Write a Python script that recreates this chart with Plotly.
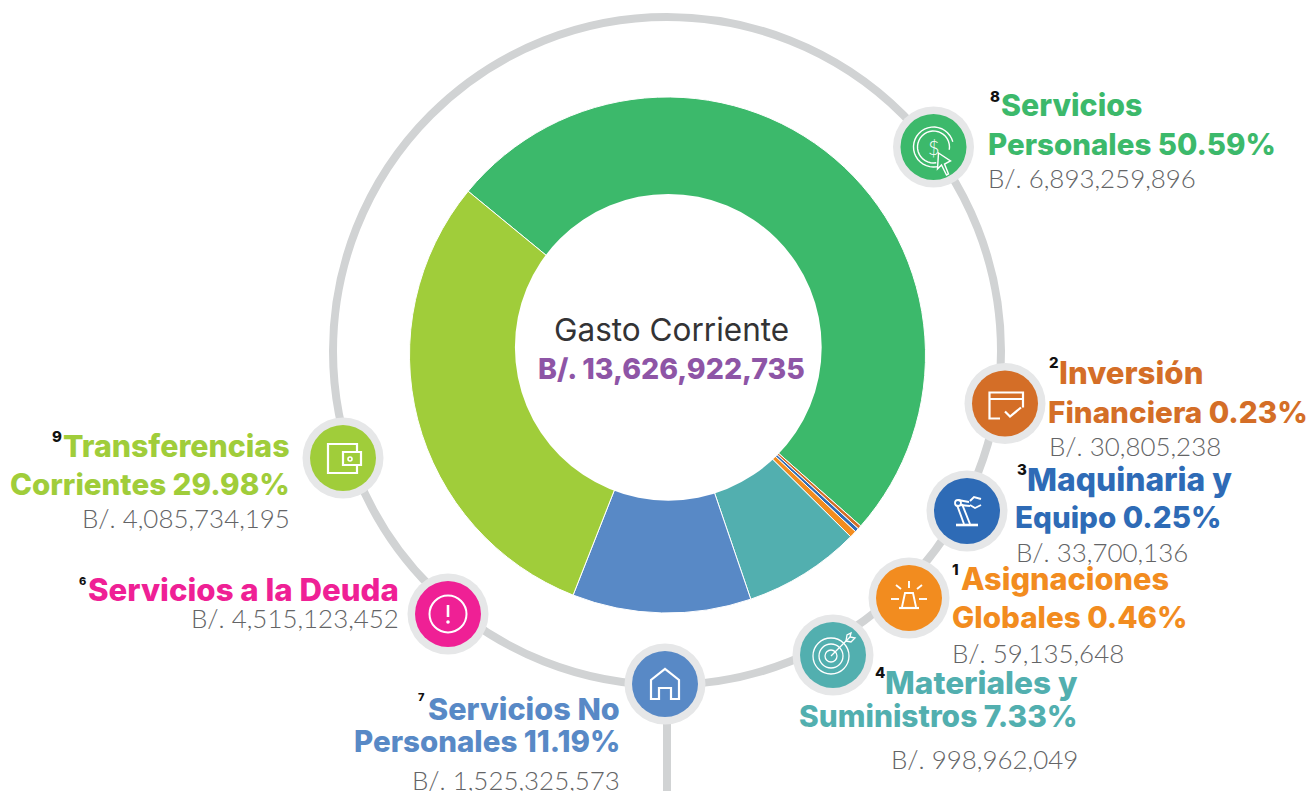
import math
import plotly.graph_objects as go

# ---- data ----
slice_names = ["Servicios Personales", "Inversión Financiera", "Maquinaria y Equipo",
               "Asignaciones Globales", "Materiales y Suministros",
               "Servicios No Personales", "Transferencias Corrientes"]
slice_values = [6893259896, 30805238, 33700136, 59135648, 998962049, 1525325573, 4085734195]
slice_colors = ["#3CB96B", "#D46E27", "#2E6BB6", "#F28C1F", "#52AFAF", "#5889C6", "#A0CD3A"]

center_title = "Gasto Corriente"
center_total = "B/. 13,626,922,735"

W, H = 1312, 791
FONT_B = "Inter"
FONT_L = "Lato"
GREY = "#636466"
RING = "#D1D3D4"
HALO = "#E6E7E8"

# label blocks: (number, number x,y, number size, [(text, x, y, anchor, size)], colour, (amount, x, y, anchor))
labels = [
    ("8", 990, 96, 15, [("Servicios", 1001, 105, "left", 30.3), ("Personales 50.59%", 988, 144, "left", 29.5)], "#3CB96B", ("B/. 6,893,259,896", 988, 178, "left")),
    ("2", 1049, 362, 15, [("Inversión", 1059, 373, "left", 31.2), ("Financiera 0.23%", 1048, 412, "left", 29.7)], "#D46E27", ("B/. 30,805,238", 1049, 446, "left")),
    ("3", 1017, 469, 15, [("Maquinaria y", 1027, 479, "left", 31.8), ("Equipo 0.25%", 1015, 517, "left", 29.6)], "#2E6BB6", ("B/. 33,700,136", 1016, 552, "left")),
    ("1", 952, 569, 15, [("Asignaciones", 961, 578, "left", 30.7), ("Globales 0.46%", 952, 617, "left", 29.6)], "#F28C1F", ("B/. 59,135,648", 952, 653, "left")),
    ("4", 875, 672, 15, [("Materiales y", 1078, 682, "right", 31.6), ("Suministros 7.33%", 1078, 716, "right", 29.9)], "#52AFAF", ("B/. 998,962,049", 1078, 759, "right")),
    ("7", 418, 697, 11, [("Servicios No", 620, 708, "right", 30.6), ("Personales 11.19%", 620, 741, "right", 29.5)], "#5889C6", ("B/. 1,525,325,573", 620, 780, "right")),
    ("6", 79, 581, 11, [("Servicios a la Deuda", 399, 590, "right", 31.2)], "#EF2095", ("B/. 4,515,123,452", 399, 618, "right")),
    ("9", 52, 436, 15, [("Transferencias", 290, 446, "right", 30.3), ("Corrientes 29.98%", 290, 484, "right", 29.6)], "#A0CD3A", ("B/. 4,085,734,195", 290, 518, "right")),
]

fig = go.Figure()
fig.add_trace(go.Pie(
    labels=slice_names, values=slice_values, hole=0.5, sort=False,
    direction="clockwise", rotation=-50.6, textinfo="none", hoverinfo="label+value",
    marker=dict(colors=slice_colors, line=dict(color="white", width=1)),
    domain=dict(x=[409.5 / W, 925.5 / W], y=[1 - 613.5 / H, 1 - 96.5 / H]),
    showlegend=False,
))

shapes = []
# off-centre white hole of the donut
shapes.append(dict(type="circle", xref="x", yref="y", x0=668.3 - 153.4, x1=668.3 + 153.4, y0=347.3 - 153.4, y1=347.3 + 153.4,
                   line=dict(width=0), fillcolor="white"))
# ring and stem
shapes.append(dict(type="circle", xref="x", yref="y", x0=667 - 334, x1=667 + 334, y0=351 - 334, y1=351 + 334,
                   line=dict(color=RING, width=8), fillcolor="rgba(0,0,0,0)"))
shapes.append(dict(type="line", xref="x", yref="y", x0=667, x1=667, y0=720, y1=791, line=dict(color=RING, width=8)))


def disk(cx, cy, r, col):
    shapes.append(dict(type="circle", xref="x", yref="y", x0=cx - r, x1=cx + r, y0=cy - r, y1=cy + r,
                       line=dict(width=0), fillcolor=col))


def ring(cx, cy, r, w=1.8):
    shapes.append(dict(type="circle", xref="x", yref="y", x0=cx - r, x1=cx + r, y0=cy - r, y1=cy + r,
                       line=dict(color="white", width=w), fillcolor="rgba(0,0,0,0)"))


def stroke(cx, cy, pts, close=False, w=1.9, fill=None):
    d = "M " + " L ".join(f"{cx + x},{cy + y}" for x, y in pts) + (" Z" if close else "")
    shapes.append(dict(type="path", xref="x", yref="y", path=d, line=dict(color="white", width=w),
                       fillcolor=fill or "rgba(0,0,0,0)"))


def arc(r, a0, a1, n=28):
    return [(r * math.cos(math.radians(a0 + (a1 - a0) * i / n)), r * math.sin(math.radians(a0 + (a1 - a0) * i / n)))
            for i in range(n + 1)]


icons = [(933.5, 147, "#3CB96B"), (1005, 403.5, "#D46E27"), (967, 511, "#2E6BB6"), (909, 598, "#F28C1F"),
         (833, 655, "#52AFAF"), (665, 684, "#5889C6"), (448, 614, "#EF2095"), (343, 458, "#A0CD3A")]
for cx, cy, col in icons:
    disk(cx, cy, 40.5, HALO)
    disk(cx, cy, 33, col)

# Servicios Personales: coin and cursor
cx, cy = icons[0][:2]
stroke(cx, cy, arc(20, 60, 345), w=1.4)
stroke(cx, cy, arc(16, 80, 370), w=1.4)
stroke(cx, cy, [(5, 6), (17, 14), (11, 17), (15, 27), (13, 28), (8, 18), (4, 22)], close=True, w=1.4, fill="#3CB96B")
# Inversión: card with check
cx, cy = icons[1][:2]
stroke(cx, cy, [(-5, 15), (-15.5, 15), (-15.5, -11), (18, -11), (18, 4)], w=2.2)
stroke(cx, cy, [(-15.5, -4.5), (18, -4.5)], w=2.2)
stroke(cx, cy, [(0, 8), (5, 13), (16, 4)], w=2.2)
# Maquinaria: robot arm
cx, cy = icons[2][:2]
stroke(cx, cy, [(-11, 14), (11, 14)], w=2.6)
stroke(cx, cy, [(-10, -6), (-3, 13)])
stroke(cx, cy, [(-5, -7), (3, 13)])
stroke(cx, cy, [(-9, -11), (2, -9)])
stroke(cx, cy, [(-7, -6), (3, -5)])
ring(cx - 9, cy - 8, 3)
stroke(cx, cy, [(3, -10), (7, -14), (14, -12)])
stroke(cx, cy, [(3, -6), (8, -3), (14, -6)])
# Asignaciones: beacon
cx, cy = icons[3][:2]
stroke(cx, cy, [(-10, 10), (10, 10)], w=2.2)
stroke(cx, cy, [(-7, 9), (-4, -5), (4, -5), (7, 9)])
stroke(cx, cy, [(0, -17), (0, -10)])
stroke(cx, cy, [(-13, -13), (-8, -9)])
stroke(cx, cy, [(13, -13), (8, -9)])
stroke(cx, cy, [(-18, 1), (-10, 1)])
stroke(cx, cy, [(10, 1), (18, 1)])
# Materiales: target and arrow
cx, cy = icons[4][:2]
ring(cx - 2, cy + 1, 18, 1.3)
ring(cx - 2, cy + 1, 12, 1.3)
ring(cx - 2, cy + 1, 6, 1.3)
stroke(cx, cy, [(-2, 1), (17, -18)], w=1.3)
stroke(cx, cy, [(13, -14), (14, -20), (18, -22), (17, -18), (22, -17), (18, -13), (13, -14)], w=1.3)
# Servicios No Personales: house
cx, cy = icons[5][:2]
stroke(cx, cy, [(-14, 15), (-14, -4), (0, -15), (14, -4), (14, 15), (6, 15), (6, 4), (-6, 4), (-6, 15)], close=True, w=2.2)
# Deuda: warning circle
cx, cy = icons[6][:2]
ring(cx, cy, 18.5, 2)
stroke(cx, cy, [(0, -9), (0, 3)], w=2.6)
disk(cx, cy + 8, 1.8, "white")
# Transferencias: wallet
cx, cy = icons[7][:2]
stroke(cx, cy, [(14, -6), (14, -14), (-15, -14), (-15, 15), (14, 15), (14, 7)], w=2.2)
stroke(cx, cy, [(0, -6), (18, -6), (18, 7), (0, 7)], close=True, w=2.2)
ring(cx + 7, cy + 1, 2, 1.6)

ann = []


def text(t, x, y, anchor, size, color, family, weight="normal"):
    ann.append(dict(text=t, x=x, y=y, xref="x", yref="y", xanchor=anchor, yanchor="middle", showarrow=False,
                    font=dict(family=family, size=size, color=color, weight=weight), borderpad=0, borderwidth=0))


for num, nx, ny, nsize, lines, col, (amt, ax, ay, aa) in labels:
    text(num, nx, ny, "left", nsize, "#111111", FONT_B, 800)
    for t, x, y, a, s in lines:
        text(t, x, y, a, s, col, FONT_B, 800)
    text(amt, ax, ay, aa, 25.9, GREY, FONT_L, 300)

text("$", icons[0][0], icons[0][1], "center", 20, "white", FONT_L, 300)
text(center_title, 671.5, 329, "center", 31.5, "#333335", FONT_B, 400)
text(center_total, 671.5, 368, "center", 28.5, "#8E55A6", FONT_B, 800)

fig.update_layout(
    width=W, height=H, margin=dict(l=0, r=0, t=0, b=0),
    paper_bgcolor="white", plot_bgcolor="white", showlegend=False,
    xaxis=dict(range=[0, W], visible=False, fixedrange=True),
    yaxis=dict(range=[H, 0], visible=False, fixedrange=True),
    shapes=shapes, annotations=ann,
)
fig.write_html("out.html", config=dict(displayModeBar=False),
               post_script="document.body.style.margin='0';document.documentElement.style.overflow='hidden';")
